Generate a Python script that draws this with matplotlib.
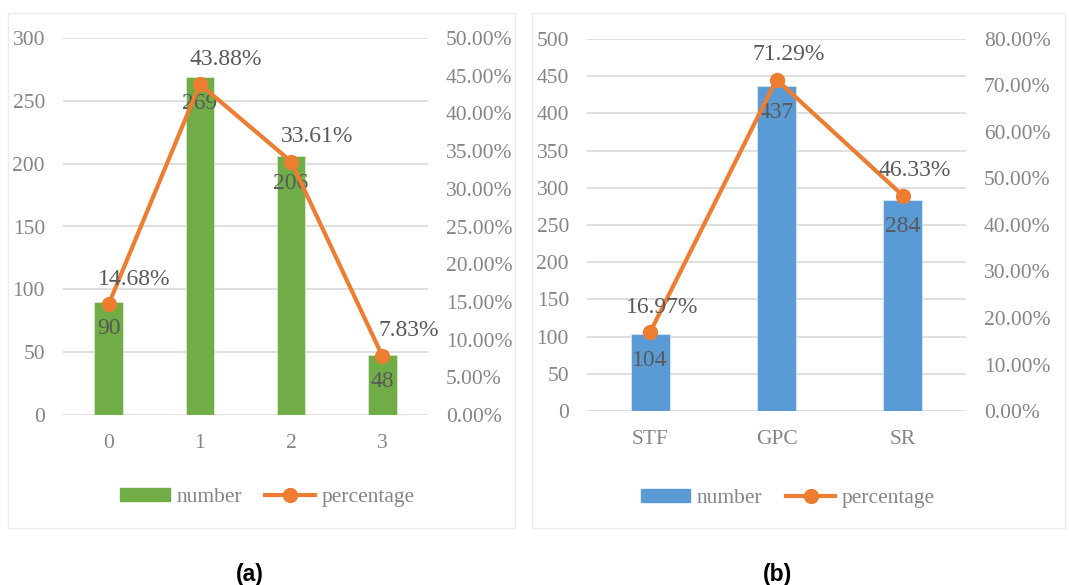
import matplotlib.pyplot as plt
from matplotlib.patches import Rectangle
from matplotlib.lines import Line2D
from matplotlib.ticker import FuncFormatter
import numpy as np

plt.rcParams['font.family'] = ['Liberation Serif', 'DejaVu Serif']

# panel (a)
cats_a = ['0', '1', '2', '3']
number_a = [90, 269, 206, 48]
pct_a = [14.68, 43.88, 33.61, 7.83]

# panel (b)
cats_b = ['STF', 'GPC', 'SR']
number_b = [104, 437, 284]
pct_b = [16.97, 71.29, 46.33]

GREEN = '#70AD47'
BLUE = '#5B9BD5'
ORANGE = '#ED7D31'
GRID = '#D9D9D9'
TICK = '#858585'
LABEL = '#595959'

W, H = 1069, 585
fig = plt.figure(figsize=(W / 100, H / 100), dpi=100)


def px(x0, y0, x1, y1):
    # pixel box (top-left origin) -> figure fraction rect
    return [x0 / W, 1 - y1 / H, (x1 - x0) / W, (y1 - y0) / H]


def panel(rect, cats, nums, pcts, color, ymax, ystep, pmax, pstep, pct_dx, legend_x, legend_y):
    ax = fig.add_axes(rect)
    x = np.arange(len(cats))
    ax.bar(x, nums, width=0.31, color=color, edgecolor='#dbe8d3' if color == GREEN else '#d6e4f3',
           linewidth=0.6, zorder=2)
    ax.set_xlim(-0.5, len(cats) - 0.5)
    ax.set_ylim(0, ymax)
    ax.set_yticks(np.arange(0, ymax + 1, ystep))
    ax.set_xticks(x)
    ax.set_xticklabels(cats)
    ax.grid(axis='y', color=GRID, linewidth=1.2, zorder=0)
    ax.set_axisbelow(True)
    for s in ax.spines.values():
        s.set_visible(False)
    ax.tick_params(length=0, labelsize=15.5, labelcolor=TICK)
    ax.tick_params(axis='y', pad=13)
    ax.tick_params(axis='x', pad=14)

    for xi, n in zip(x, nums):
        ax.annotate(str(n), (xi, n), xytext=(0, -27), textcoords='offset pixels',
                    ha='center', va='center', fontsize=17, color=LABEL, zorder=3)

    ax2 = ax.twinx()
    ax2.plot(x, pcts, color=ORANGE, linewidth=3, marker='o', markersize=10, zorder=4)
    ax2.set_ylim(0, pmax)
    ax2.set_yticks(np.arange(0, pmax + 0.01, pstep))
    ax2.yaxis.set_major_formatter(FuncFormatter(lambda v, p: f'{v:.2f}%'))
    for s in ax2.spines.values():
        s.set_visible(False)
    ax2.tick_params(length=0, labelsize=15.5, labelcolor=TICK, pad=13)

    for xi, p in zip(x, pcts):
        ax2.annotate(f'{p:.2f}%', (xi, p), xytext=(pct_dx, 25), textcoords='offset pixels',
                     ha='center', va='center', fontsize=17, color=LABEL, zorder=5)

    handles = [Rectangle((0, 0), 1, 1, color=color),
               Line2D([], [], color=ORANGE, linewidth=3, marker='o', markersize=10)]
    ax.legend(handles, ['number', 'percentage'], loc='center', bbox_to_anchor=(legend_x, legend_y),
              ncol=2, frameon=False, fontsize=15.5, labelcolor=TICK, handlelength=2.3,
              handleheight=0.55, handletextpad=0.3, columnspacing=1.1)
    return ax


panel(px(63, 38, 428, 415), cats_a, number_a, pct_a, GREEN, 300, 50, 50, 5, 26, 0.56, -0.218)
panel(px(587, 39, 966, 411), cats_b, number_b, pct_b, BLUE, 500, 50, 80, 10, 12, 0.53, -0.235)

# panel frames
for x0, x1 in [(8, 515), (532, 1065)]:
    fig.patches.append(Rectangle((x0 / W, 1 - 528 / H), (x1 - x0) / W, (528 - 13) / H,
                                 transform=fig.transFigure, fill=False,
                                 edgecolor='#ececec', linewidth=1))

fig.text(250 / W, 1 - 574 / H, '(a)', ha='center', va='center', fontsize=16.5,
         fontweight='bold', family='Liberation Sans', color='black')
fig.text(778 / W, 1 - 574 / H, '(b)', ha='center', va='center', fontsize=16.5,
         fontweight='bold', family='Liberation Sans', color='black')

fig.savefig('out.png', dpi=100)
